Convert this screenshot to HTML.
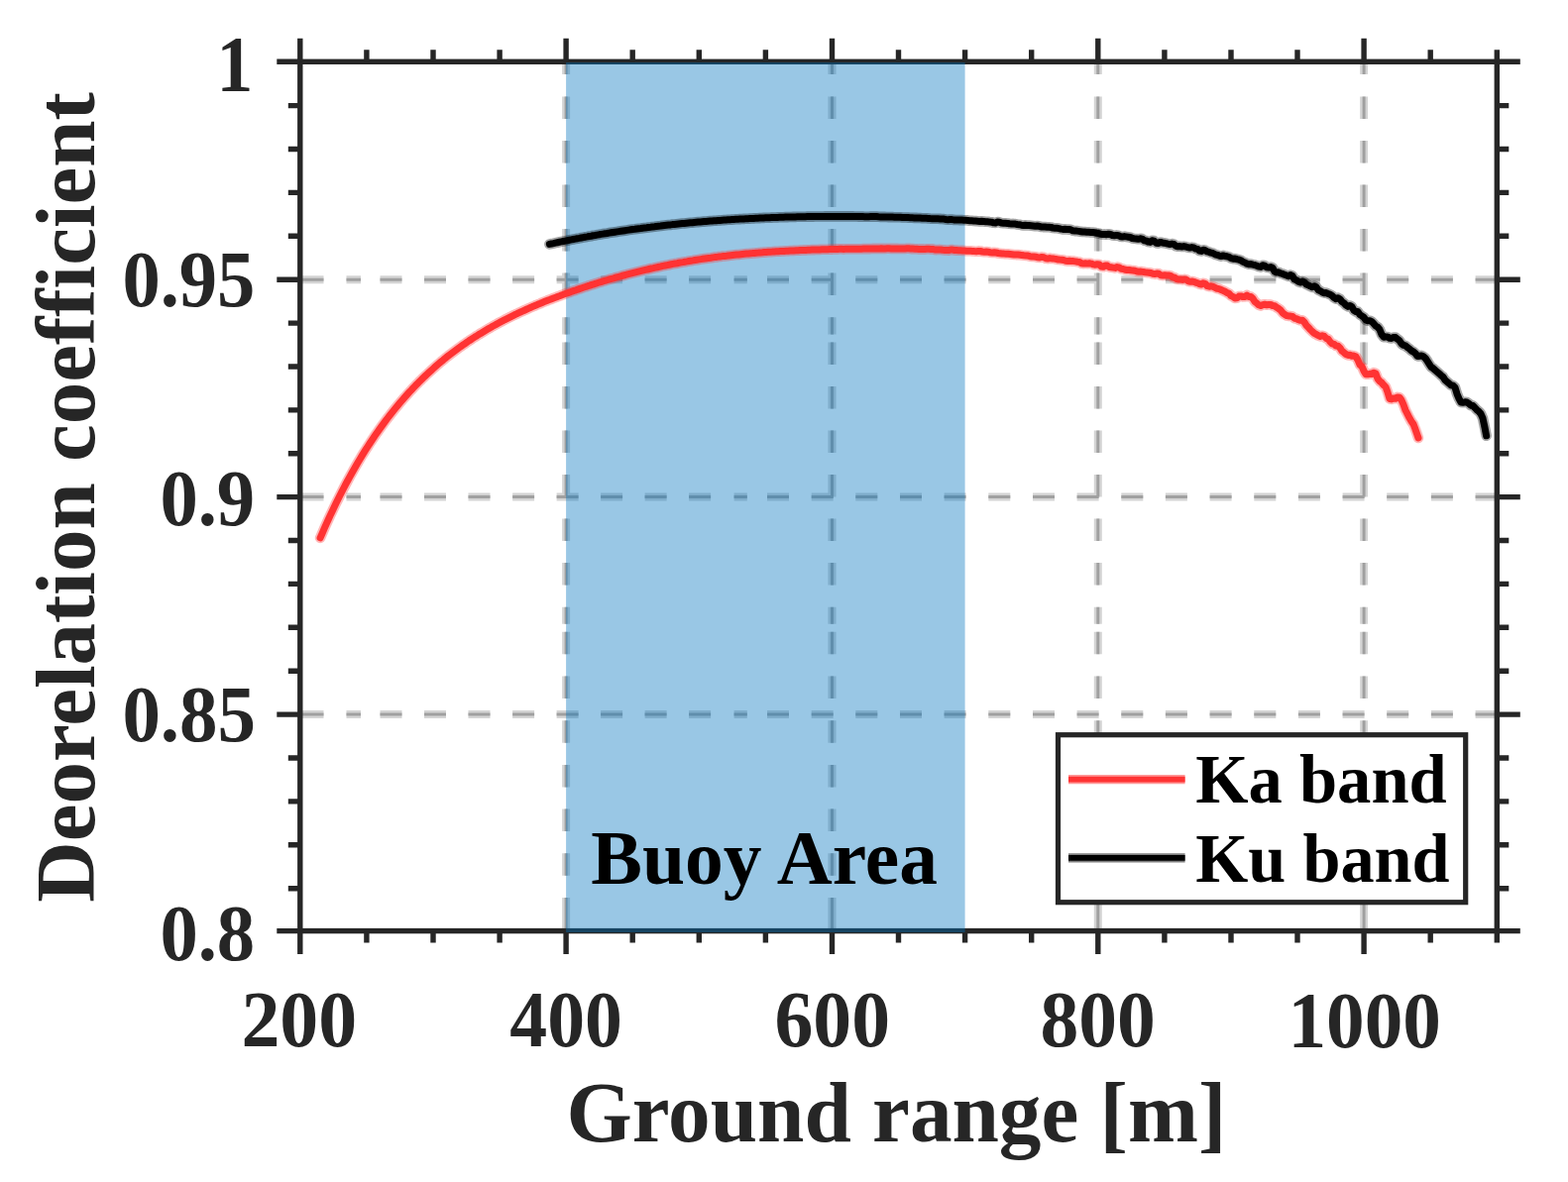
<!DOCTYPE html>
<html><head><meta charset="utf-8"><style>
html,body{margin:0;padding:0;background:#fff;}
body{width:1582px;height:1193px;overflow:hidden;}
svg{display:block;}
text{font-family:"Liberation Serif","Times New Roman",serif;font-weight:bold;}
.t{fill:#262626;}
.l{fill:#262626;}
.b{fill:#000;}
.g{fill:#000;}
</style></head><body>
<svg width="1582" height="1193" viewBox="0 0 1582 1193">
<rect width="1582" height="1193" fill="#fff"/>
<path d="M302.8 282.2H326.5M349.5 282.2H364.0M383.5 282.2H405.5M428.0 282.2H450.0M472.5 282.2H494.5M517.1 282.2H539.1M561.6 282.2H583.6M606.1 282.2H628.1M650.6 282.2H672.6M695.1 282.2H717.1M740.6 282.2H753.8M774.0 282.2H796.0M818.7 282.2H840.7M863.3 282.2H885.3M908.0 282.2H930.0M952.6 282.2H974.6M997.3 282.2H1019.3M1042.0 282.2H1064.0M1086.6 282.2H1108.6M1131.3 282.2H1153.3M1175.9 282.2H1197.9M1220.6 282.2H1242.6M1265.3 282.2H1287.3M1309.9 282.2H1331.9M1354.6 282.2H1376.6M1399.2 282.2H1421.2M1443.9 282.2H1465.9M1488.6 282.2H1510.3M302.8 501.6H326.5M349.5 501.6H364.0M383.5 501.6H405.5M428.0 501.6H450.0M472.5 501.6H494.5M517.1 501.6H539.1M561.6 501.6H583.6M606.1 501.6H628.1M650.6 501.6H672.6M695.1 501.6H717.1M740.6 501.6H753.8M774.0 501.6H796.0M818.7 501.6H840.7M863.3 501.6H885.3M908.0 501.6H930.0M952.6 501.6H974.6M997.3 501.6H1019.3M1042.0 501.6H1064.0M1086.6 501.6H1108.6M1131.3 501.6H1153.3M1175.9 501.6H1197.9M1220.6 501.6H1242.6M1265.3 501.6H1287.3M1309.9 501.6H1331.9M1354.6 501.6H1376.6M1399.2 501.6H1421.2M1443.9 501.6H1465.9M1488.6 501.6H1510.3M302.8 721.1H326.5M349.5 721.1H364.0M383.5 721.1H405.5M428.0 721.1H450.0M472.5 721.1H494.5M517.1 721.1H539.1M561.6 721.1H583.6M606.1 721.1H628.1M650.6 721.1H672.6M695.1 721.1H717.1M740.6 721.1H753.8M774.0 721.1H796.0M818.7 721.1H840.7M863.3 721.1H885.3M908.0 721.1H930.0M952.6 721.1H974.6M997.3 721.1H1019.3M1042.0 721.1H1064.0M1086.6 721.1H1108.6M1131.3 721.1H1153.3M1175.9 721.1H1197.9M1220.6 721.1H1242.6M1265.3 721.1H1287.3M1309.9 721.1H1331.9M1354.6 721.1H1376.6M1399.2 721.1H1421.2M1443.9 721.1H1465.9M1488.6 721.1H1510.3M571.1 62.3V75.0M571.1 97.6V120.1M571.1 142.1V164.6M571.1 186.6V209.1M571.1 231.1V253.6M571.1 275.6V298.1M571.1 320.3V337.5M571.1 345.6V368.1M571.1 390.1V412.6M571.1 434.6V457.1M571.1 479.1V501.6M571.1 523.6V546.1M571.1 568.1V590.6M571.1 612.8V629.8M571.1 637.8V660.3M571.1 682.5V705.0M571.1 727.2V749.7M571.1 771.9V794.4M571.1 816.6V839.1M571.1 861.3V883.8M571.1 906.0V939.6M839.5 62.3V75.0M839.5 97.6V120.1M839.5 142.1V164.6M839.5 186.6V209.1M839.5 231.1V253.6M839.5 275.6V298.1M839.5 320.3V337.5M839.5 345.6V368.1M839.5 390.1V412.6M839.5 434.6V457.1M839.5 479.1V501.6M839.5 523.6V546.1M839.5 568.1V590.6M839.5 612.8V629.8M839.5 637.8V660.3M839.5 682.5V705.0M839.5 727.2V749.7M839.5 771.9V794.4M839.5 816.6V839.1M839.5 861.3V883.8M839.5 906.0V939.6M1107.8 62.3V75.0M1107.8 97.6V120.1M1107.8 142.1V164.6M1107.8 186.6V209.1M1107.8 231.1V253.6M1107.8 275.6V298.1M1107.8 320.3V337.5M1107.8 345.6V368.1M1107.8 390.1V412.6M1107.8 434.6V457.1M1107.8 479.1V501.6M1107.8 523.6V546.1M1107.8 568.1V590.6M1107.8 612.8V629.8M1107.8 637.8V660.3M1107.8 682.5V705.0M1107.8 727.2V749.7M1107.8 771.9V794.4M1107.8 816.6V839.1M1107.8 861.3V883.8M1107.8 906.0V939.6M1376.1 62.3V75.0M1376.1 97.6V120.1M1376.1 142.1V164.6M1376.1 186.6V209.1M1376.1 231.1V253.6M1376.1 275.6V298.1M1376.1 320.3V337.5M1376.1 345.6V368.1M1376.1 390.1V412.6M1376.1 434.6V457.1M1376.1 479.1V501.6M1376.1 523.6V546.1M1376.1 568.1V590.6M1376.1 612.8V629.8M1376.1 637.8V660.3M1376.1 682.5V705.0M1376.1 727.2V749.7M1376.1 771.9V794.4M1376.1 816.6V839.1M1376.1 861.3V883.8M1376.1 906.0V939.6" stroke="#d4d4d4" stroke-width="8" fill="none"/>
<path d="M302.8 282.2H326.5M349.5 282.2H364.0M383.5 282.2H405.5M428.0 282.2H450.0M472.5 282.2H494.5M517.1 282.2H539.1M561.6 282.2H583.6M606.1 282.2H628.1M650.6 282.2H672.6M695.1 282.2H717.1M740.6 282.2H753.8M774.0 282.2H796.0M818.7 282.2H840.7M863.3 282.2H885.3M908.0 282.2H930.0M952.6 282.2H974.6M997.3 282.2H1019.3M1042.0 282.2H1064.0M1086.6 282.2H1108.6M1131.3 282.2H1153.3M1175.9 282.2H1197.9M1220.6 282.2H1242.6M1265.3 282.2H1287.3M1309.9 282.2H1331.9M1354.6 282.2H1376.6M1399.2 282.2H1421.2M1443.9 282.2H1465.9M1488.6 282.2H1510.3M302.8 501.6H326.5M349.5 501.6H364.0M383.5 501.6H405.5M428.0 501.6H450.0M472.5 501.6H494.5M517.1 501.6H539.1M561.6 501.6H583.6M606.1 501.6H628.1M650.6 501.6H672.6M695.1 501.6H717.1M740.6 501.6H753.8M774.0 501.6H796.0M818.7 501.6H840.7M863.3 501.6H885.3M908.0 501.6H930.0M952.6 501.6H974.6M997.3 501.6H1019.3M1042.0 501.6H1064.0M1086.6 501.6H1108.6M1131.3 501.6H1153.3M1175.9 501.6H1197.9M1220.6 501.6H1242.6M1265.3 501.6H1287.3M1309.9 501.6H1331.9M1354.6 501.6H1376.6M1399.2 501.6H1421.2M1443.9 501.6H1465.9M1488.6 501.6H1510.3M302.8 721.1H326.5M349.5 721.1H364.0M383.5 721.1H405.5M428.0 721.1H450.0M472.5 721.1H494.5M517.1 721.1H539.1M561.6 721.1H583.6M606.1 721.1H628.1M650.6 721.1H672.6M695.1 721.1H717.1M740.6 721.1H753.8M774.0 721.1H796.0M818.7 721.1H840.7M863.3 721.1H885.3M908.0 721.1H930.0M952.6 721.1H974.6M997.3 721.1H1019.3M1042.0 721.1H1064.0M1086.6 721.1H1108.6M1131.3 721.1H1153.3M1175.9 721.1H1197.9M1220.6 721.1H1242.6M1265.3 721.1H1287.3M1309.9 721.1H1331.9M1354.6 721.1H1376.6M1399.2 721.1H1421.2M1443.9 721.1H1465.9M1488.6 721.1H1510.3M571.1 62.3V75.0M571.1 97.6V120.1M571.1 142.1V164.6M571.1 186.6V209.1M571.1 231.1V253.6M571.1 275.6V298.1M571.1 320.3V337.5M571.1 345.6V368.1M571.1 390.1V412.6M571.1 434.6V457.1M571.1 479.1V501.6M571.1 523.6V546.1M571.1 568.1V590.6M571.1 612.8V629.8M571.1 637.8V660.3M571.1 682.5V705.0M571.1 727.2V749.7M571.1 771.9V794.4M571.1 816.6V839.1M571.1 861.3V883.8M571.1 906.0V939.6M839.5 62.3V75.0M839.5 97.6V120.1M839.5 142.1V164.6M839.5 186.6V209.1M839.5 231.1V253.6M839.5 275.6V298.1M839.5 320.3V337.5M839.5 345.6V368.1M839.5 390.1V412.6M839.5 434.6V457.1M839.5 479.1V501.6M839.5 523.6V546.1M839.5 568.1V590.6M839.5 612.8V629.8M839.5 637.8V660.3M839.5 682.5V705.0M839.5 727.2V749.7M839.5 771.9V794.4M839.5 816.6V839.1M839.5 861.3V883.8M839.5 906.0V939.6M1107.8 62.3V75.0M1107.8 97.6V120.1M1107.8 142.1V164.6M1107.8 186.6V209.1M1107.8 231.1V253.6M1107.8 275.6V298.1M1107.8 320.3V337.5M1107.8 345.6V368.1M1107.8 390.1V412.6M1107.8 434.6V457.1M1107.8 479.1V501.6M1107.8 523.6V546.1M1107.8 568.1V590.6M1107.8 612.8V629.8M1107.8 637.8V660.3M1107.8 682.5V705.0M1107.8 727.2V749.7M1107.8 771.9V794.4M1107.8 816.6V839.1M1107.8 861.3V883.8M1107.8 906.0V939.6M1376.1 62.3V75.0M1376.1 97.6V120.1M1376.1 142.1V164.6M1376.1 186.6V209.1M1376.1 231.1V253.6M1376.1 275.6V298.1M1376.1 320.3V337.5M1376.1 345.6V368.1M1376.1 390.1V412.6M1376.1 434.6V457.1M1376.1 479.1V501.6M1376.1 523.6V546.1M1376.1 568.1V590.6M1376.1 612.8V629.8M1376.1 637.8V660.3M1376.1 682.5V705.0M1376.1 727.2V749.7M1376.1 771.9V794.4M1376.1 816.6V839.1M1376.1 861.3V883.8M1376.1 906.0V939.6" stroke="#a0a0a0" stroke-width="3" fill="none"/>
<rect x="302.8" y="62.3" width="1207.5" height="877.3" fill="none" stroke="#262626" stroke-width="5.4"/>
<path d="M302.8 62.3V38.8M302.8 939.6V963.1M369.9 62.3V50.3M369.9 939.6V951.6M437.0 62.3V50.3M437.0 939.6V951.6M504.1 62.3V50.3M504.1 939.6V951.6M571.1 62.3V38.8M571.1 939.6V963.1M638.2 62.3V50.3M638.2 939.6V951.6M705.3 62.3V50.3M705.3 939.6V951.6M772.4 62.3V50.3M772.4 939.6V951.6M839.5 62.3V38.8M839.5 939.6V963.1M906.5 62.3V50.3M906.5 939.6V951.6M973.6 62.3V50.3M973.6 939.6V951.6M1040.7 62.3V50.3M1040.7 939.6V951.6M1107.8 62.3V38.8M1107.8 939.6V963.1M1174.9 62.3V50.3M1174.9 939.6V951.6M1242.0 62.3V50.3M1242.0 939.6V951.6M1309.0 62.3V50.3M1309.0 939.6V951.6M1376.1 62.3V38.8M1376.1 939.6V963.1M1443.2 62.3V50.3M1443.2 939.6V951.6M1510.3 62.3V50.3M1510.3 939.6V951.6M302.8 939.6H279.3M1510.3 939.6H1533.8M302.8 896.7H290.8M1510.3 896.7H1522.3M302.8 852.8H290.8M1510.3 852.8H1522.3M302.8 808.9H290.8M1510.3 808.9H1522.3M302.8 765.0H290.8M1510.3 765.0H1522.3M302.8 721.1H279.3M1510.3 721.1H1533.8M302.8 677.2H290.8M1510.3 677.2H1522.3M302.8 633.3H290.8M1510.3 633.3H1522.3M302.8 589.4H290.8M1510.3 589.4H1522.3M302.8 545.5H290.8M1510.3 545.5H1522.3M302.8 501.6H279.3M1510.3 501.6H1533.8M302.8 457.8H290.8M1510.3 457.8H1522.3M302.8 413.9H290.8M1510.3 413.9H1522.3M302.8 370.0H290.8M1510.3 370.0H1522.3M302.8 326.1H290.8M1510.3 326.1H1522.3M302.8 282.2H279.3M1510.3 282.2H1533.8M302.8 238.3H290.8M1510.3 238.3H1522.3M302.8 194.4H290.8M1510.3 194.4H1522.3M302.8 150.5H290.8M1510.3 150.5H1522.3M302.8 106.6H290.8M1510.3 106.6H1522.3M302.8 62.3H279.3M1510.3 62.3H1533.8" stroke="#262626" stroke-width="5.4" fill="none"/>
<rect x="571.1" y="63" width="402.5" height="878" fill="rgb(0,114,189)" fill-opacity="0.4"/>
<polyline points="323.1,542.9 325.1,538.3 327.1,533.7 329.1,529.2 331.1,524.8 333.1,520.4 335.1,516.2 337.1,512.0 339.1,507.8 341.1,503.8 343.1,499.8 345.1,495.9 347.1,492.0 349.1,488.2 351.1,484.5 353.1,480.8 355.1,477.2 357.1,473.7 359.1,470.2 361.1,466.8 363.1,463.4 365.1,460.1 367.1,456.9 369.1,453.7 371.1,450.6 373.1,447.5 375.1,444.5 377.1,441.5 379.1,438.6 381.1,435.7 383.1,432.9 385.1,430.1 387.1,427.4 389.1,424.7 391.1,422.0 393.1,419.4 395.1,416.9 397.1,414.4 399.1,411.9 401.1,409.5 403.1,407.1 405.1,404.8 407.1,402.4 409.1,400.2 411.1,397.9 413.1,395.7 415.1,393.6 417.1,391.4 419.1,389.3 421.1,387.3 423.1,385.2 425.1,383.3 427.1,381.3 429.1,379.4 431.1,377.5 433.1,375.6 435.1,373.8 437.1,372.0 439.1,370.2 441.1,368.4 443.1,366.7 445.1,365.0 447.1,363.4 449.1,361.7 451.1,360.1 453.1,358.5 455.1,357.0 457.1,355.5 459.1,354.0 461.1,352.5 463.1,351.0 465.1,349.6 467.1,348.2 469.1,346.8 471.1,345.4 473.1,344.0 475.1,342.7 477.1,341.4 479.1,340.1 481.1,338.9 483.1,337.6 485.1,336.4 487.1,335.2 489.1,334.0 491.1,332.8 493.1,331.6 495.1,330.5 497.1,329.3 499.1,328.2 501.1,327.1 503.1,326.0 505.1,324.9 507.1,323.9 509.1,322.8 511.1,321.8 513.1,320.8 515.1,319.8 517.1,318.8 519.1,317.8 521.1,316.9 523.1,315.9 525.1,315.0 527.1,314.1 529.1,313.2 531.1,312.3 533.1,311.4 535.1,310.5 537.1,309.6 539.1,308.8 541.1,307.9 543.1,307.1 545.1,306.3 547.1,305.4 549.1,304.6 551.1,303.8 553.1,303.0 555.1,302.3 557.1,301.5 559.1,300.7 561.1,300.0 563.1,299.2 565.1,298.5 567.1,297.7 569.1,297.0 571.1,296.3 573.1,295.6 575.1,294.9 577.1,294.1 579.1,293.4 581.1,292.8 583.1,292.1 585.1,291.4 587.1,290.7 589.1,290.0 591.1,289.4 593.1,288.7 595.1,288.1 597.1,287.4 599.1,286.8 601.1,286.2 603.1,285.5 605.1,284.9 607.1,284.3 609.1,283.7 611.1,283.1 613.1,282.5 615.1,281.9 617.1,281.3 619.1,280.8 621.1,280.2 623.1,279.6 625.1,279.1 627.1,278.5 629.1,278.0 631.1,277.5 633.1,276.9 635.1,276.4 637.1,275.9 639.1,275.4 641.1,274.9 643.1,274.4 645.1,273.9 647.1,273.4 649.1,272.9 651.1,272.4 653.1,272.0 655.1,271.5 657.1,271.0 659.1,270.6 661.1,270.1 663.1,269.7 665.1,269.3 667.1,268.8 669.1,268.4 671.1,268.0 673.1,267.6 675.1,267.2 677.1,266.8 679.1,266.4 681.1,266.0 683.1,265.7 685.1,265.3 687.1,264.9 689.1,264.6 691.1,264.2 693.1,263.9 695.1,263.5 697.1,263.2 699.1,262.9 701.1,262.5 703.1,262.2 705.1,261.9 707.1,261.6 709.1,261.3 711.1,261.0 713.1,260.7 715.1,260.4 717.1,260.2 719.1,259.9 721.1,259.6 723.1,259.4 725.1,259.1 727.1,258.9 729.1,258.6 731.1,258.4 733.1,258.2 735.1,257.9 737.1,257.7 739.1,257.5 741.1,257.3 743.1,257.1 745.1,256.9 747.1,256.7 749.1,256.5 751.1,256.3 753.1,256.1 755.1,255.9 757.1,255.7 759.1,255.6 761.1,255.4 763.1,255.2 765.1,255.1 767.1,254.9 769.1,254.8 771.1,254.6 773.1,254.5 775.1,254.3 777.1,254.2 779.1,254.1 781.1,253.9 783.1,253.8 785.1,253.7 787.1,253.6 789.1,253.5 791.1,253.4 793.1,253.3 795.1,253.2 797.1,253.0 799.1,253.0 801.1,252.9 803.1,252.8 805.1,252.7 807.1,252.6 809.1,252.5 811.1,252.4 813.1,252.4 815.1,252.3 817.1,252.2 819.1,252.1 821.1,252.1 823.1,252.0 825.1,252.0 827.1,251.9 829.1,251.8 831.1,251.8 833.1,251.7 835.1,251.7 837.1,251.6 839.1,251.6 841.1,251.5 843.1,251.4 845.1,251.4 847.1,251.3 849.1,251.3 851.1,251.4 853.1,251.3 855.1,251.2 857.1,251.2 859.1,251.2 861.1,251.2 863.1,251.2 865.1,251.2 867.1,251.2 869.1,251.2 871.1,251.1 873.1,251.1 875.1,251.1 877.1,251.1 879.1,251.0 881.1,250.9 883.1,250.9 885.1,250.9 887.1,250.9 889.1,250.8 891.1,250.9 893.1,250.9 895.1,250.8 897.1,250.8 899.1,250.9 901.1,250.9 903.1,250.9 905.1,250.9 907.1,251.0 909.1,251.0 911.1,251.0 913.1,251.0 915.1,250.8 917.1,250.8 919.1,251.1 921.1,251.1 923.1,251.2 925.1,251.2 927.1,251.4 929.1,251.4 931.1,251.4 933.1,251.5 935.1,251.3 937.1,251.3 939.1,251.4 941.1,251.4 943.1,252.0 945.1,252.1 947.1,251.9 949.1,252.0 951.1,252.3 953.1,252.4 955.1,252.5 957.1,252.6 959.1,252.0 961.1,252.1 963.1,252.5 965.1,252.6 967.1,252.7 969.1,252.8 971.1,252.9 973.1,253.0 975.1,253.2 977.1,253.3 979.1,253.3 981.1,253.4 983.1,253.6 985.1,253.7 987.1,253.4 989.1,253.5 991.1,254.0 993.1,254.2 995.1,254.1 997.1,254.3 999.1,254.7 1001.1,254.9 1003.1,254.8 1005.1,255.0 1007.1,255.5 1009.1,255.7 1011.1,255.9 1013.1,256.1 1015.1,256.2 1017.1,256.3 1019.1,256.5 1021.1,256.7 1023.1,256.9 1025.1,257.1 1027.1,257.1 1029.1,257.3 1031.1,257.6 1033.1,257.8 1035.1,257.9 1037.1,258.1 1039.1,258.7 1041.1,258.9 1043.1,259.0 1045.1,259.3 1047.1,259.7 1049.1,259.9 1051.1,259.4 1053.1,259.7 1055.1,260.8 1057.1,261.1 1059.1,260.6 1061.1,260.9 1063.1,261.1 1065.1,261.4 1067.1,261.9 1069.1,262.1 1071.1,262.2 1073.1,262.5 1075.1,263.2 1077.1,263.4 1079.1,263.3 1081.1,263.6 1083.1,263.6 1085.1,263.9 1087.1,264.3 1089.1,264.5 1091.1,265.8 1093.1,266.1 1095.1,265.8 1097.1,266.1 1099.1,265.8 1101.1,266.1 1103.1,266.9 1105.1,267.2 1107.1,266.7 1109.1,267.0 1111.1,269.0 1113.1,269.3 1115.1,267.9 1117.1,268.1 1119.1,269.5 1121.1,269.8 1123.1,270.1 1125.1,270.4 1127.1,269.6 1129.1,269.9 1131.1,271.2 1133.1,271.5 1135.1,272.2 1137.1,272.5 1139.1,272.5 1141.1,272.8 1143.1,273.0 1145.1,273.3 1147.1,274.0 1149.1,274.3 1151.1,274.1 1153.1,274.4 1155.1,274.8 1157.1,275.1 1159.1,275.2 1161.1,275.5 1163.1,276.3 1165.1,276.6 1167.1,276.0 1169.1,276.3 1171.1,277.8 1173.1,278.1 1175.1,277.7 1177.1,278.0 1179.1,278.0 1181.1,278.4 1183.1,279.8 1185.1,280.2 1187.1,281.6 1189.1,282.0 1191.1,282.0 1193.1,282.4 1195.1,281.9 1197.1,282.4 1199.1,283.8 1201.1,284.3 1203.1,284.0 1205.1,284.6 1207.1,285.4 1209.1,286.0 1210.0,286.6 1212.0,287.1 1214.0,285.8 1216.0,286.3 1218.0,288.7 1220.0,289.2 1222.0,288.8 1224.0,289.3 1226.0,290.3 1228.0,291.3 1230.0,291.6 1232.0,292.5 1234.0,293.4 1236.0,294.3 1238.0,295.5 1240.0,296.3 1242.0,298.6 1244.0,299.4 1246.0,300.9 1248.0,300.8 1250.0,299.1 1252.0,298.9 1254.0,299.6 1256.0,299.4 1258.0,298.0 1260.0,299.5 1262.0,299.6 1264.0,301.2 1266.0,304.5 1268.0,306.0 1270.0,307.8 1272.0,308.6 1274.0,307.6 1276.0,307.3 1278.0,307.7 1280.0,307.5 1282.0,307.5 1284.0,308.5 1286.0,308.7 1288.0,310.3 1290.0,311.4 1292.0,313.0 1294.0,315.7 1296.0,317.3 1298.0,318.5 1300.0,318.9 1302.0,319.1 1304.0,319.5 1306.0,321.2 1308.0,321.6 1310.0,322.7 1312.0,323.3 1314.0,323.2 1316.0,325.2 1318.0,328.3 1320.0,330.4 1322.0,332.6 1324.0,334.6 1326.0,336.4 1328.0,337.4 1330.0,338.6 1332.0,339.4 1334.0,338.7 1336.0,339.4 1338.0,341.4 1340.0,342.2 1342.0,345.0 1344.0,346.8 1346.0,347.3 1348.0,349.1 1350.0,349.3 1352.0,351.2 1354.0,354.3 1356.0,355.8 1358.0,357.5 1360.0,358.4 1362.0,358.3 1364.0,359.2 1366.0,359.1 1368.0,360.0 1370.0,363.5 1372.0,368.2 1374.0,369.7 1376.0,374.4 1378.0,377.7 1380.0,377.8 1382.0,377.3 1384.0,377.5 1386.0,376.2 1388.0,377.0 1390.0,382.3 1392.0,384.8 1394.0,386.2 1396.0,388.7 1398.0,390.5 1400.0,395.9 1402.0,402.5 1404.0,402.9 1406.0,402.0 1408.0,402.3 1410.0,400.9 1412.0,401.2 1414.0,403.9 1416.0,408.4 1418.0,414.0 1420.0,417.9 1422.0,421.8 1424.0,425.3 1426.0,428.1 1428.0,433.3 1430.0,439.1 1431.0,442.0" fill="none" stroke="#ff3333" stroke-opacity="0.35" stroke-width="10.6" stroke-linejoin="round" stroke-linecap="round"/>
<polyline points="323.1,542.9 325.1,538.3 327.1,533.7 329.1,529.2 331.1,524.8 333.1,520.4 335.1,516.2 337.1,512.0 339.1,507.8 341.1,503.8 343.1,499.8 345.1,495.9 347.1,492.0 349.1,488.2 351.1,484.5 353.1,480.8 355.1,477.2 357.1,473.7 359.1,470.2 361.1,466.8 363.1,463.4 365.1,460.1 367.1,456.9 369.1,453.7 371.1,450.6 373.1,447.5 375.1,444.5 377.1,441.5 379.1,438.6 381.1,435.7 383.1,432.9 385.1,430.1 387.1,427.4 389.1,424.7 391.1,422.0 393.1,419.4 395.1,416.9 397.1,414.4 399.1,411.9 401.1,409.5 403.1,407.1 405.1,404.8 407.1,402.4 409.1,400.2 411.1,397.9 413.1,395.7 415.1,393.6 417.1,391.4 419.1,389.3 421.1,387.3 423.1,385.2 425.1,383.3 427.1,381.3 429.1,379.4 431.1,377.5 433.1,375.6 435.1,373.8 437.1,372.0 439.1,370.2 441.1,368.4 443.1,366.7 445.1,365.0 447.1,363.4 449.1,361.7 451.1,360.1 453.1,358.5 455.1,357.0 457.1,355.5 459.1,354.0 461.1,352.5 463.1,351.0 465.1,349.6 467.1,348.2 469.1,346.8 471.1,345.4 473.1,344.0 475.1,342.7 477.1,341.4 479.1,340.1 481.1,338.9 483.1,337.6 485.1,336.4 487.1,335.2 489.1,334.0 491.1,332.8 493.1,331.6 495.1,330.5 497.1,329.3 499.1,328.2 501.1,327.1 503.1,326.0 505.1,324.9 507.1,323.9 509.1,322.8 511.1,321.8 513.1,320.8 515.1,319.8 517.1,318.8 519.1,317.8 521.1,316.9 523.1,315.9 525.1,315.0 527.1,314.1 529.1,313.2 531.1,312.3 533.1,311.4 535.1,310.5 537.1,309.6 539.1,308.8 541.1,307.9 543.1,307.1 545.1,306.3 547.1,305.4 549.1,304.6 551.1,303.8 553.1,303.0 555.1,302.3 557.1,301.5 559.1,300.7 561.1,300.0 563.1,299.2 565.1,298.5 567.1,297.7 569.1,297.0 571.1,296.3 573.1,295.6 575.1,294.9 577.1,294.1 579.1,293.4 581.1,292.8 583.1,292.1 585.1,291.4 587.1,290.7 589.1,290.0 591.1,289.4 593.1,288.7 595.1,288.1 597.1,287.4 599.1,286.8 601.1,286.2 603.1,285.5 605.1,284.9 607.1,284.3 609.1,283.7 611.1,283.1 613.1,282.5 615.1,281.9 617.1,281.3 619.1,280.8 621.1,280.2 623.1,279.6 625.1,279.1 627.1,278.5 629.1,278.0 631.1,277.5 633.1,276.9 635.1,276.4 637.1,275.9 639.1,275.4 641.1,274.9 643.1,274.4 645.1,273.9 647.1,273.4 649.1,272.9 651.1,272.4 653.1,272.0 655.1,271.5 657.1,271.0 659.1,270.6 661.1,270.1 663.1,269.7 665.1,269.3 667.1,268.8 669.1,268.4 671.1,268.0 673.1,267.6 675.1,267.2 677.1,266.8 679.1,266.4 681.1,266.0 683.1,265.7 685.1,265.3 687.1,264.9 689.1,264.6 691.1,264.2 693.1,263.9 695.1,263.5 697.1,263.2 699.1,262.9 701.1,262.5 703.1,262.2 705.1,261.9 707.1,261.6 709.1,261.3 711.1,261.0 713.1,260.7 715.1,260.4 717.1,260.2 719.1,259.9 721.1,259.6 723.1,259.4 725.1,259.1 727.1,258.9 729.1,258.6 731.1,258.4 733.1,258.2 735.1,257.9 737.1,257.7 739.1,257.5 741.1,257.3 743.1,257.1 745.1,256.9 747.1,256.7 749.1,256.5 751.1,256.3 753.1,256.1 755.1,255.9 757.1,255.7 759.1,255.6 761.1,255.4 763.1,255.2 765.1,255.1 767.1,254.9 769.1,254.8 771.1,254.6 773.1,254.5 775.1,254.3 777.1,254.2 779.1,254.1 781.1,253.9 783.1,253.8 785.1,253.7 787.1,253.6 789.1,253.5 791.1,253.4 793.1,253.3 795.1,253.2 797.1,253.0 799.1,253.0 801.1,252.9 803.1,252.8 805.1,252.7 807.1,252.6 809.1,252.5 811.1,252.4 813.1,252.4 815.1,252.3 817.1,252.2 819.1,252.1 821.1,252.1 823.1,252.0 825.1,252.0 827.1,251.9 829.1,251.8 831.1,251.8 833.1,251.7 835.1,251.7 837.1,251.6 839.1,251.6 841.1,251.5 843.1,251.4 845.1,251.4 847.1,251.3 849.1,251.3 851.1,251.4 853.1,251.3 855.1,251.2 857.1,251.2 859.1,251.2 861.1,251.2 863.1,251.2 865.1,251.2 867.1,251.2 869.1,251.2 871.1,251.1 873.1,251.1 875.1,251.1 877.1,251.1 879.1,251.0 881.1,250.9 883.1,250.9 885.1,250.9 887.1,250.9 889.1,250.8 891.1,250.9 893.1,250.9 895.1,250.8 897.1,250.8 899.1,250.9 901.1,250.9 903.1,250.9 905.1,250.9 907.1,251.0 909.1,251.0 911.1,251.0 913.1,251.0 915.1,250.8 917.1,250.8 919.1,251.1 921.1,251.1 923.1,251.2 925.1,251.2 927.1,251.4 929.1,251.4 931.1,251.4 933.1,251.5 935.1,251.3 937.1,251.3 939.1,251.4 941.1,251.4 943.1,252.0 945.1,252.1 947.1,251.9 949.1,252.0 951.1,252.3 953.1,252.4 955.1,252.5 957.1,252.6 959.1,252.0 961.1,252.1 963.1,252.5 965.1,252.6 967.1,252.7 969.1,252.8 971.1,252.9 973.1,253.0 975.1,253.2 977.1,253.3 979.1,253.3 981.1,253.4 983.1,253.6 985.1,253.7 987.1,253.4 989.1,253.5 991.1,254.0 993.1,254.2 995.1,254.1 997.1,254.3 999.1,254.7 1001.1,254.9 1003.1,254.8 1005.1,255.0 1007.1,255.5 1009.1,255.7 1011.1,255.9 1013.1,256.1 1015.1,256.2 1017.1,256.3 1019.1,256.5 1021.1,256.7 1023.1,256.9 1025.1,257.1 1027.1,257.1 1029.1,257.3 1031.1,257.6 1033.1,257.8 1035.1,257.9 1037.1,258.1 1039.1,258.7 1041.1,258.9 1043.1,259.0 1045.1,259.3 1047.1,259.7 1049.1,259.9 1051.1,259.4 1053.1,259.7 1055.1,260.8 1057.1,261.1 1059.1,260.6 1061.1,260.9 1063.1,261.1 1065.1,261.4 1067.1,261.9 1069.1,262.1 1071.1,262.2 1073.1,262.5 1075.1,263.2 1077.1,263.4 1079.1,263.3 1081.1,263.6 1083.1,263.6 1085.1,263.9 1087.1,264.3 1089.1,264.5 1091.1,265.8 1093.1,266.1 1095.1,265.8 1097.1,266.1 1099.1,265.8 1101.1,266.1 1103.1,266.9 1105.1,267.2 1107.1,266.7 1109.1,267.0 1111.1,269.0 1113.1,269.3 1115.1,267.9 1117.1,268.1 1119.1,269.5 1121.1,269.8 1123.1,270.1 1125.1,270.4 1127.1,269.6 1129.1,269.9 1131.1,271.2 1133.1,271.5 1135.1,272.2 1137.1,272.5 1139.1,272.5 1141.1,272.8 1143.1,273.0 1145.1,273.3 1147.1,274.0 1149.1,274.3 1151.1,274.1 1153.1,274.4 1155.1,274.8 1157.1,275.1 1159.1,275.2 1161.1,275.5 1163.1,276.3 1165.1,276.6 1167.1,276.0 1169.1,276.3 1171.1,277.8 1173.1,278.1 1175.1,277.7 1177.1,278.0 1179.1,278.0 1181.1,278.4 1183.1,279.8 1185.1,280.2 1187.1,281.6 1189.1,282.0 1191.1,282.0 1193.1,282.4 1195.1,281.9 1197.1,282.4 1199.1,283.8 1201.1,284.3 1203.1,284.0 1205.1,284.6 1207.1,285.4 1209.1,286.0 1210.0,286.6 1212.0,287.1 1214.0,285.8 1216.0,286.3 1218.0,288.7 1220.0,289.2 1222.0,288.8 1224.0,289.3 1226.0,290.3 1228.0,291.3 1230.0,291.6 1232.0,292.5 1234.0,293.4 1236.0,294.3 1238.0,295.5 1240.0,296.3 1242.0,298.6 1244.0,299.4 1246.0,300.9 1248.0,300.8 1250.0,299.1 1252.0,298.9 1254.0,299.6 1256.0,299.4 1258.0,298.0 1260.0,299.5 1262.0,299.6 1264.0,301.2 1266.0,304.5 1268.0,306.0 1270.0,307.8 1272.0,308.6 1274.0,307.6 1276.0,307.3 1278.0,307.7 1280.0,307.5 1282.0,307.5 1284.0,308.5 1286.0,308.7 1288.0,310.3 1290.0,311.4 1292.0,313.0 1294.0,315.7 1296.0,317.3 1298.0,318.5 1300.0,318.9 1302.0,319.1 1304.0,319.5 1306.0,321.2 1308.0,321.6 1310.0,322.7 1312.0,323.3 1314.0,323.2 1316.0,325.2 1318.0,328.3 1320.0,330.4 1322.0,332.6 1324.0,334.6 1326.0,336.4 1328.0,337.4 1330.0,338.6 1332.0,339.4 1334.0,338.7 1336.0,339.4 1338.0,341.4 1340.0,342.2 1342.0,345.0 1344.0,346.8 1346.0,347.3 1348.0,349.1 1350.0,349.3 1352.0,351.2 1354.0,354.3 1356.0,355.8 1358.0,357.5 1360.0,358.4 1362.0,358.3 1364.0,359.2 1366.0,359.1 1368.0,360.0 1370.0,363.5 1372.0,368.2 1374.0,369.7 1376.0,374.4 1378.0,377.7 1380.0,377.8 1382.0,377.3 1384.0,377.5 1386.0,376.2 1388.0,377.0 1390.0,382.3 1392.0,384.8 1394.0,386.2 1396.0,388.7 1398.0,390.5 1400.0,395.9 1402.0,402.5 1404.0,402.9 1406.0,402.0 1408.0,402.3 1410.0,400.9 1412.0,401.2 1414.0,403.9 1416.0,408.4 1418.0,414.0 1420.0,417.9 1422.0,421.8 1424.0,425.3 1426.0,428.1 1428.0,433.3 1430.0,439.1 1431.0,442.0" fill="none" stroke="#ff3333" stroke-width="7.0" stroke-linejoin="round" stroke-linecap="round"/>
<polyline points="554.4,246.4 556.4,246.0 558.4,245.6 560.4,245.1 562.4,244.7 564.4,244.3 566.4,243.9 568.4,243.5 570.4,243.1 572.4,242.7 574.4,242.3 576.4,241.9 578.4,241.5 580.4,241.1 582.4,240.7 584.4,240.4 586.4,240.0 588.4,239.6 590.4,239.2 592.4,238.9 594.4,238.5 596.4,238.2 598.4,237.8 600.4,237.5 602.4,237.1 604.4,236.8 606.4,236.4 608.4,236.1 610.4,235.8 612.4,235.5 614.4,235.1 616.4,234.8 618.4,234.5 620.4,234.2 622.4,233.9 624.4,233.6 626.4,233.3 628.4,233.0 630.4,232.7 632.4,232.4 634.4,232.1 636.4,231.8 638.4,231.5 640.4,231.3 642.4,231.0 644.4,230.7 646.4,230.5 648.4,230.2 650.4,229.9 652.4,229.7 654.4,229.4 656.4,229.2 658.4,228.9 660.4,228.7 662.4,228.4 664.4,228.2 666.4,228.0 668.4,227.7 670.4,227.5 672.4,227.3 674.4,227.1 676.4,226.9 678.4,226.6 680.4,226.4 682.4,226.2 684.4,226.0 686.4,225.8 688.4,225.6 690.4,225.4 692.4,225.2 694.4,225.0 696.4,224.8 698.4,224.7 700.4,224.5 702.4,224.3 704.4,224.1 706.4,224.0 708.4,223.8 710.4,223.6 712.4,223.5 714.4,223.3 716.4,223.1 718.4,223.0 720.4,222.8 722.4,222.7 724.4,222.5 726.4,222.4 728.4,222.2 730.4,222.1 732.4,222.0 734.4,221.8 736.4,221.7 738.4,221.6 740.4,221.5 742.4,221.3 744.4,221.2 746.4,221.1 748.4,221.0 750.4,220.9 752.4,220.8 754.4,220.7 756.4,220.6 758.4,220.5 760.4,220.4 762.4,220.3 764.4,220.2 766.4,220.1 768.4,220.0 770.4,219.9 772.4,219.8 774.4,219.8 776.4,219.7 778.4,219.6 780.4,219.5 782.4,219.5 784.4,219.4 786.4,219.3 788.4,219.3 790.4,219.2 792.4,219.1 794.4,219.1 796.4,219.0 798.4,219.0 800.4,218.9 802.4,218.9 804.4,218.8 806.4,218.8 808.4,218.8 810.4,218.7 812.4,218.7 814.4,218.6 816.4,218.6 818.4,218.6 820.4,218.6 822.4,218.5 824.4,218.5 826.4,218.5 828.4,218.5 830.4,218.5 832.4,218.4 834.4,218.4 836.4,218.4 838.4,218.4 840.4,218.4 842.4,218.4 844.4,218.4 846.4,218.4 848.4,218.4 850.4,218.4 852.4,218.4 854.4,218.4 856.4,218.4 858.4,218.4 860.4,218.4 862.4,218.5 864.4,218.5 866.4,218.6 868.4,218.6 870.4,218.6 872.4,218.7 874.4,218.7 876.4,218.7 878.4,218.6 880.4,218.6 882.4,218.6 884.4,218.6 886.4,218.8 888.4,218.9 890.4,218.9 892.4,218.9 894.4,219.0 896.4,219.1 898.4,219.1 900.4,219.1 902.4,219.2 904.4,219.3 906.4,219.2 908.4,219.2 910.4,219.5 912.4,219.5 914.4,219.5 916.4,219.6 918.4,219.7 920.4,219.8 922.4,219.9 924.4,219.9 926.4,220.0 928.4,220.0 930.4,220.2 932.4,220.3 934.4,220.3 936.4,220.4 938.4,220.6 940.4,220.7 942.4,220.7 944.4,220.8 946.4,220.8 948.4,220.9 950.4,221.0 952.4,221.1 954.4,221.5 956.4,221.7 958.4,221.5 960.4,221.6 962.4,221.9 964.4,222.0 966.4,222.0 968.4,222.1 970.4,222.1 972.4,222.2 974.4,222.3 976.4,222.4 978.4,222.7 980.4,222.8 982.4,223.0 984.4,223.1 986.4,223.3 988.4,223.5 990.4,223.2 992.4,223.4 994.4,223.7 996.4,223.8 998.4,224.1 1000.4,224.2 1002.4,224.8 1004.4,224.9 1006.4,224.1 1008.4,224.3 1010.4,225.1 1012.4,225.3 1014.4,225.2 1016.4,225.4 1018.4,225.8 1020.4,226.0 1022.4,225.9 1024.4,226.1 1026.4,226.5 1028.4,226.7 1030.4,227.2 1032.4,227.4 1034.4,227.2 1036.4,227.4 1038.4,227.6 1040.4,227.8 1042.4,228.0 1044.4,228.2 1046.4,228.1 1048.4,228.3 1050.4,228.9 1052.4,229.1 1054.4,229.1 1056.4,229.3 1058.4,229.3 1060.4,229.5 1062.4,230.0 1064.4,230.2 1066.4,230.3 1068.4,230.6 1070.4,231.1 1072.4,231.4 1074.4,231.3 1076.4,231.5 1078.4,231.6 1080.4,231.8 1082.4,232.8 1084.4,233.1 1086.4,233.1 1088.4,233.4 1090.4,233.7 1092.4,234.0 1094.4,234.0 1096.4,234.2 1098.4,234.2 1100.4,234.4 1102.4,234.6 1104.4,234.8 1106.4,235.2 1108.4,235.4 1110.4,236.2 1112.4,236.5 1114.4,236.4 1116.4,236.7 1118.4,236.2 1120.4,236.5 1122.4,237.5 1124.4,237.7 1126.4,237.4 1128.4,237.7 1130.4,238.7 1132.4,239.0 1134.4,238.6 1136.4,238.9 1138.4,239.2 1140.4,239.5 1142.4,240.5 1144.4,240.8 1146.4,241.0 1148.4,241.3 1150.4,240.8 1152.4,241.1 1154.4,242.7 1156.4,243.0 1158.4,244.0 1160.4,244.4 1162.4,242.8 1164.4,243.1 1166.4,245.2 1168.4,245.5 1170.4,244.5 1172.4,244.8 1174.4,245.3 1176.4,245.6 1178.4,246.1 1180.4,246.5 1182.4,246.1 1184.4,246.4 1186.4,248.4 1188.4,248.8 1190.4,248.6 1192.4,249.0 1194.4,248.6 1196.4,249.0 1198.4,249.6 1200.4,250.0 1202.4,249.6 1204.4,250.0 1206.4,251.1 1208.4,251.4 1210.0,253.0 1212.0,253.4 1214.0,252.2 1216.0,252.7 1218.0,253.9 1220.0,254.4 1222.0,255.2 1224.0,255.7 1226.0,256.8 1228.0,257.3 1230.0,258.1 1232.0,258.6 1234.0,257.9 1236.0,258.5 1238.0,258.8 1240.0,259.3 1242.0,260.7 1244.0,261.2 1246.0,261.1 1248.0,261.7 1250.0,262.2 1252.0,262.8 1254.0,264.3 1256.0,265.0 1258.0,266.1 1260.0,266.8 1262.0,266.5 1264.0,267.1 1266.0,267.5 1268.0,268.2 1270.0,269.1 1272.0,269.4 1274.0,267.8 1276.0,268.1 1278.0,269.8 1280.0,270.1 1282.0,269.6 1284.0,270.3 1286.0,274.1 1288.0,275.1 1290.0,274.8 1292.0,275.8 1294.0,276.3 1296.0,277.3 1298.0,278.0 1300.0,278.8 1302.0,277.6 1304.0,278.4 1306.0,281.9 1308.0,282.7 1310.0,284.3 1312.0,285.1 1314.0,284.0 1316.0,284.9 1318.0,287.0 1320.0,287.9 1322.0,288.9 1324.0,289.8 1326.0,288.7 1328.0,289.6 1330.0,292.7 1332.0,293.6 1334.0,294.9 1336.0,295.7 1338.0,295.6 1340.0,296.5 1342.0,297.3 1344.0,298.5 1346.0,300.5 1348.0,301.7 1350.0,300.7 1352.0,301.9 1354.0,304.6 1356.0,305.9 1358.0,308.1 1360.0,309.4 1362.0,308.5 1364.0,309.8 1366.0,313.3 1368.0,314.6 1370.0,314.6 1372.0,317.6 1374.0,318.9 1376.0,320.2 1378.0,323.0 1380.0,323.8 1382.0,323.7 1384.0,324.6 1386.0,326.7 1388.0,329.0 1390.0,330.1 1392.0,332.7 1394.0,337.6 1396.0,340.2 1398.0,340.0 1400.0,340.0 1402.0,341.3 1404.0,341.4 1406.0,340.5 1408.0,340.6 1410.0,342.3 1412.0,343.8 1414.0,346.9 1416.0,348.4 1418.0,348.9 1420.0,350.6 1422.0,352.0 1424.0,354.0 1426.0,355.0 1428.0,356.7 1430.0,359.4 1432.0,359.4 1434.0,358.9 1436.0,359.8 1438.0,361.4 1440.0,364.2 1442.0,367.6 1444.0,370.5 1446.0,371.8 1448.0,373.6 1450.0,375.3 1452.0,377.0 1454.0,378.9 1456.0,380.5 1458.0,383.6 1460.0,385.3 1462.0,387.0 1464.0,388.8 1466.0,389.2 1468.0,391.0 1470.0,397.6 1472.0,402.3 1474.0,406.0 1476.0,406.3 1478.0,405.8 1480.0,406.0 1482.0,407.4 1484.0,409.2 1486.0,409.5 1488.0,411.5 1490.0,413.7 1492.0,415.3 1494.0,417.6 1496.0,422.2 1498.0,431.6 1499.6,439.8" fill="none" stroke="#000" stroke-opacity="0.35" stroke-width="10.6" stroke-linejoin="round" stroke-linecap="round"/>
<polyline points="554.4,246.4 556.4,246.0 558.4,245.6 560.4,245.1 562.4,244.7 564.4,244.3 566.4,243.9 568.4,243.5 570.4,243.1 572.4,242.7 574.4,242.3 576.4,241.9 578.4,241.5 580.4,241.1 582.4,240.7 584.4,240.4 586.4,240.0 588.4,239.6 590.4,239.2 592.4,238.9 594.4,238.5 596.4,238.2 598.4,237.8 600.4,237.5 602.4,237.1 604.4,236.8 606.4,236.4 608.4,236.1 610.4,235.8 612.4,235.5 614.4,235.1 616.4,234.8 618.4,234.5 620.4,234.2 622.4,233.9 624.4,233.6 626.4,233.3 628.4,233.0 630.4,232.7 632.4,232.4 634.4,232.1 636.4,231.8 638.4,231.5 640.4,231.3 642.4,231.0 644.4,230.7 646.4,230.5 648.4,230.2 650.4,229.9 652.4,229.7 654.4,229.4 656.4,229.2 658.4,228.9 660.4,228.7 662.4,228.4 664.4,228.2 666.4,228.0 668.4,227.7 670.4,227.5 672.4,227.3 674.4,227.1 676.4,226.9 678.4,226.6 680.4,226.4 682.4,226.2 684.4,226.0 686.4,225.8 688.4,225.6 690.4,225.4 692.4,225.2 694.4,225.0 696.4,224.8 698.4,224.7 700.4,224.5 702.4,224.3 704.4,224.1 706.4,224.0 708.4,223.8 710.4,223.6 712.4,223.5 714.4,223.3 716.4,223.1 718.4,223.0 720.4,222.8 722.4,222.7 724.4,222.5 726.4,222.4 728.4,222.2 730.4,222.1 732.4,222.0 734.4,221.8 736.4,221.7 738.4,221.6 740.4,221.5 742.4,221.3 744.4,221.2 746.4,221.1 748.4,221.0 750.4,220.9 752.4,220.8 754.4,220.7 756.4,220.6 758.4,220.5 760.4,220.4 762.4,220.3 764.4,220.2 766.4,220.1 768.4,220.0 770.4,219.9 772.4,219.8 774.4,219.8 776.4,219.7 778.4,219.6 780.4,219.5 782.4,219.5 784.4,219.4 786.4,219.3 788.4,219.3 790.4,219.2 792.4,219.1 794.4,219.1 796.4,219.0 798.4,219.0 800.4,218.9 802.4,218.9 804.4,218.8 806.4,218.8 808.4,218.8 810.4,218.7 812.4,218.7 814.4,218.6 816.4,218.6 818.4,218.6 820.4,218.6 822.4,218.5 824.4,218.5 826.4,218.5 828.4,218.5 830.4,218.5 832.4,218.4 834.4,218.4 836.4,218.4 838.4,218.4 840.4,218.4 842.4,218.4 844.4,218.4 846.4,218.4 848.4,218.4 850.4,218.4 852.4,218.4 854.4,218.4 856.4,218.4 858.4,218.4 860.4,218.4 862.4,218.5 864.4,218.5 866.4,218.6 868.4,218.6 870.4,218.6 872.4,218.7 874.4,218.7 876.4,218.7 878.4,218.6 880.4,218.6 882.4,218.6 884.4,218.6 886.4,218.8 888.4,218.9 890.4,218.9 892.4,218.9 894.4,219.0 896.4,219.1 898.4,219.1 900.4,219.1 902.4,219.2 904.4,219.3 906.4,219.2 908.4,219.2 910.4,219.5 912.4,219.5 914.4,219.5 916.4,219.6 918.4,219.7 920.4,219.8 922.4,219.9 924.4,219.9 926.4,220.0 928.4,220.0 930.4,220.2 932.4,220.3 934.4,220.3 936.4,220.4 938.4,220.6 940.4,220.7 942.4,220.7 944.4,220.8 946.4,220.8 948.4,220.9 950.4,221.0 952.4,221.1 954.4,221.5 956.4,221.7 958.4,221.5 960.4,221.6 962.4,221.9 964.4,222.0 966.4,222.0 968.4,222.1 970.4,222.1 972.4,222.2 974.4,222.3 976.4,222.4 978.4,222.7 980.4,222.8 982.4,223.0 984.4,223.1 986.4,223.3 988.4,223.5 990.4,223.2 992.4,223.4 994.4,223.7 996.4,223.8 998.4,224.1 1000.4,224.2 1002.4,224.8 1004.4,224.9 1006.4,224.1 1008.4,224.3 1010.4,225.1 1012.4,225.3 1014.4,225.2 1016.4,225.4 1018.4,225.8 1020.4,226.0 1022.4,225.9 1024.4,226.1 1026.4,226.5 1028.4,226.7 1030.4,227.2 1032.4,227.4 1034.4,227.2 1036.4,227.4 1038.4,227.6 1040.4,227.8 1042.4,228.0 1044.4,228.2 1046.4,228.1 1048.4,228.3 1050.4,228.9 1052.4,229.1 1054.4,229.1 1056.4,229.3 1058.4,229.3 1060.4,229.5 1062.4,230.0 1064.4,230.2 1066.4,230.3 1068.4,230.6 1070.4,231.1 1072.4,231.4 1074.4,231.3 1076.4,231.5 1078.4,231.6 1080.4,231.8 1082.4,232.8 1084.4,233.1 1086.4,233.1 1088.4,233.4 1090.4,233.7 1092.4,234.0 1094.4,234.0 1096.4,234.2 1098.4,234.2 1100.4,234.4 1102.4,234.6 1104.4,234.8 1106.4,235.2 1108.4,235.4 1110.4,236.2 1112.4,236.5 1114.4,236.4 1116.4,236.7 1118.4,236.2 1120.4,236.5 1122.4,237.5 1124.4,237.7 1126.4,237.4 1128.4,237.7 1130.4,238.7 1132.4,239.0 1134.4,238.6 1136.4,238.9 1138.4,239.2 1140.4,239.5 1142.4,240.5 1144.4,240.8 1146.4,241.0 1148.4,241.3 1150.4,240.8 1152.4,241.1 1154.4,242.7 1156.4,243.0 1158.4,244.0 1160.4,244.4 1162.4,242.8 1164.4,243.1 1166.4,245.2 1168.4,245.5 1170.4,244.5 1172.4,244.8 1174.4,245.3 1176.4,245.6 1178.4,246.1 1180.4,246.5 1182.4,246.1 1184.4,246.4 1186.4,248.4 1188.4,248.8 1190.4,248.6 1192.4,249.0 1194.4,248.6 1196.4,249.0 1198.4,249.6 1200.4,250.0 1202.4,249.6 1204.4,250.0 1206.4,251.1 1208.4,251.4 1210.0,253.0 1212.0,253.4 1214.0,252.2 1216.0,252.7 1218.0,253.9 1220.0,254.4 1222.0,255.2 1224.0,255.7 1226.0,256.8 1228.0,257.3 1230.0,258.1 1232.0,258.6 1234.0,257.9 1236.0,258.5 1238.0,258.8 1240.0,259.3 1242.0,260.7 1244.0,261.2 1246.0,261.1 1248.0,261.7 1250.0,262.2 1252.0,262.8 1254.0,264.3 1256.0,265.0 1258.0,266.1 1260.0,266.8 1262.0,266.5 1264.0,267.1 1266.0,267.5 1268.0,268.2 1270.0,269.1 1272.0,269.4 1274.0,267.8 1276.0,268.1 1278.0,269.8 1280.0,270.1 1282.0,269.6 1284.0,270.3 1286.0,274.1 1288.0,275.1 1290.0,274.8 1292.0,275.8 1294.0,276.3 1296.0,277.3 1298.0,278.0 1300.0,278.8 1302.0,277.6 1304.0,278.4 1306.0,281.9 1308.0,282.7 1310.0,284.3 1312.0,285.1 1314.0,284.0 1316.0,284.9 1318.0,287.0 1320.0,287.9 1322.0,288.9 1324.0,289.8 1326.0,288.7 1328.0,289.6 1330.0,292.7 1332.0,293.6 1334.0,294.9 1336.0,295.7 1338.0,295.6 1340.0,296.5 1342.0,297.3 1344.0,298.5 1346.0,300.5 1348.0,301.7 1350.0,300.7 1352.0,301.9 1354.0,304.6 1356.0,305.9 1358.0,308.1 1360.0,309.4 1362.0,308.5 1364.0,309.8 1366.0,313.3 1368.0,314.6 1370.0,314.6 1372.0,317.6 1374.0,318.9 1376.0,320.2 1378.0,323.0 1380.0,323.8 1382.0,323.7 1384.0,324.6 1386.0,326.7 1388.0,329.0 1390.0,330.1 1392.0,332.7 1394.0,337.6 1396.0,340.2 1398.0,340.0 1400.0,340.0 1402.0,341.3 1404.0,341.4 1406.0,340.5 1408.0,340.6 1410.0,342.3 1412.0,343.8 1414.0,346.9 1416.0,348.4 1418.0,348.9 1420.0,350.6 1422.0,352.0 1424.0,354.0 1426.0,355.0 1428.0,356.7 1430.0,359.4 1432.0,359.4 1434.0,358.9 1436.0,359.8 1438.0,361.4 1440.0,364.2 1442.0,367.6 1444.0,370.5 1446.0,371.8 1448.0,373.6 1450.0,375.3 1452.0,377.0 1454.0,378.9 1456.0,380.5 1458.0,383.6 1460.0,385.3 1462.0,387.0 1464.0,388.8 1466.0,389.2 1468.0,391.0 1470.0,397.6 1472.0,402.3 1474.0,406.0 1476.0,406.3 1478.0,405.8 1480.0,406.0 1482.0,407.4 1484.0,409.2 1486.0,409.5 1488.0,411.5 1490.0,413.7 1492.0,415.3 1494.0,417.6 1496.0,422.2 1498.0,431.6 1499.6,439.8" fill="none" stroke="#000" stroke-width="7.0" stroke-linejoin="round" stroke-linecap="round"/>
<rect x="1067.5" y="741.7" width="411.2" height="169" fill="#fff" stroke="#262626" stroke-width="5.2"/>
<line x1="1078" y1="786.6" x2="1195.6" y2="786.6" stroke="#ff3333" stroke-opacity="0.5" stroke-width="9.4"/>
<line x1="1078" y1="786.6" x2="1195.6" y2="786.6" stroke="#ff3333" stroke-width="5.6"/>
<line x1="1078" y1="865.9" x2="1195.6" y2="865.9" stroke="#000" stroke-opacity="0.5" stroke-width="9.4"/>
<line x1="1078" y1="865.9" x2="1195.6" y2="865.9" stroke="#000" stroke-width="5.6"/>
<text id="y1" x="255.40" y="91.50" text-anchor="end" class="t" font-size="80.00" textLength="36.8" lengthAdjust="spacingAndGlyphs">1</text>
<text id="y0.95" x="257.40" y="309.30" text-anchor="end" class="t" font-size="80.00" textLength="134.0" lengthAdjust="spacingAndGlyphs">0.95</text>
<text id="y0.9" x="257.20" y="530.10" text-anchor="end" class="t" font-size="80.00" textLength="95.8" lengthAdjust="spacingAndGlyphs">0.9</text>
<text id="y0.85" x="258.00" y="747.90" text-anchor="end" class="t" font-size="80.00" textLength="134.6" lengthAdjust="spacingAndGlyphs">0.85</text>
<text id="y0.8" x="257.20" y="969.20" text-anchor="end" class="t" font-size="80.00" textLength="95.8" lengthAdjust="spacingAndGlyphs">0.8</text>
<text id="x200" x="301.80" y="1055.50" text-anchor="middle" class="t" font-size="80.00" textLength="116.8" lengthAdjust="spacingAndGlyphs">200</text>
<text id="x400" x="571.16" y="1055.50" text-anchor="middle" class="t" font-size="80.00" textLength="113.6" lengthAdjust="spacingAndGlyphs">400</text>
<text id="x600" x="839.81" y="1055.50" text-anchor="middle" class="t" font-size="80.00" textLength="116.6" lengthAdjust="spacingAndGlyphs">600</text>
<text id="x800" x="1107.67" y="1055.50" text-anchor="middle" class="t" font-size="80.00" textLength="116.4" lengthAdjust="spacingAndGlyphs">800</text>
<text id="x1000" x="1376.72" y="1056.50" text-anchor="middle" class="t" font-size="80.00" textLength="154.6" lengthAdjust="spacingAndGlyphs">1000</text>
<text id="xl" x="904.40" y="1152.30" text-anchor="middle" class="l" font-size="87.00" textLength="665.8" lengthAdjust="spacingAndGlyphs">Ground range [m]</text>
<text id="yl" transform="translate(94.50 501.90) rotate(-90)" x="0" y="0" text-anchor="middle" class="l" font-size="85.00" textLength="817.6" lengthAdjust="spacingAndGlyphs">Deorelation coefficient</text>
<text id="buoy" x="596.20" y="891.50" text-anchor="start" class="b" font-size="78.00" textLength="349.8" lengthAdjust="spacingAndGlyphs">Buoy Area</text>
<text id="ka" x="1206.20" y="809.80" text-anchor="start" class="g" font-size="69.00" textLength="253.5" lengthAdjust="spacingAndGlyphs">Ka band</text>
<text id="ku" x="1206.20" y="890.40" text-anchor="start" class="g" font-size="69.00" textLength="256.4" lengthAdjust="spacingAndGlyphs">Ku band</text>
</svg>
</body></html>
